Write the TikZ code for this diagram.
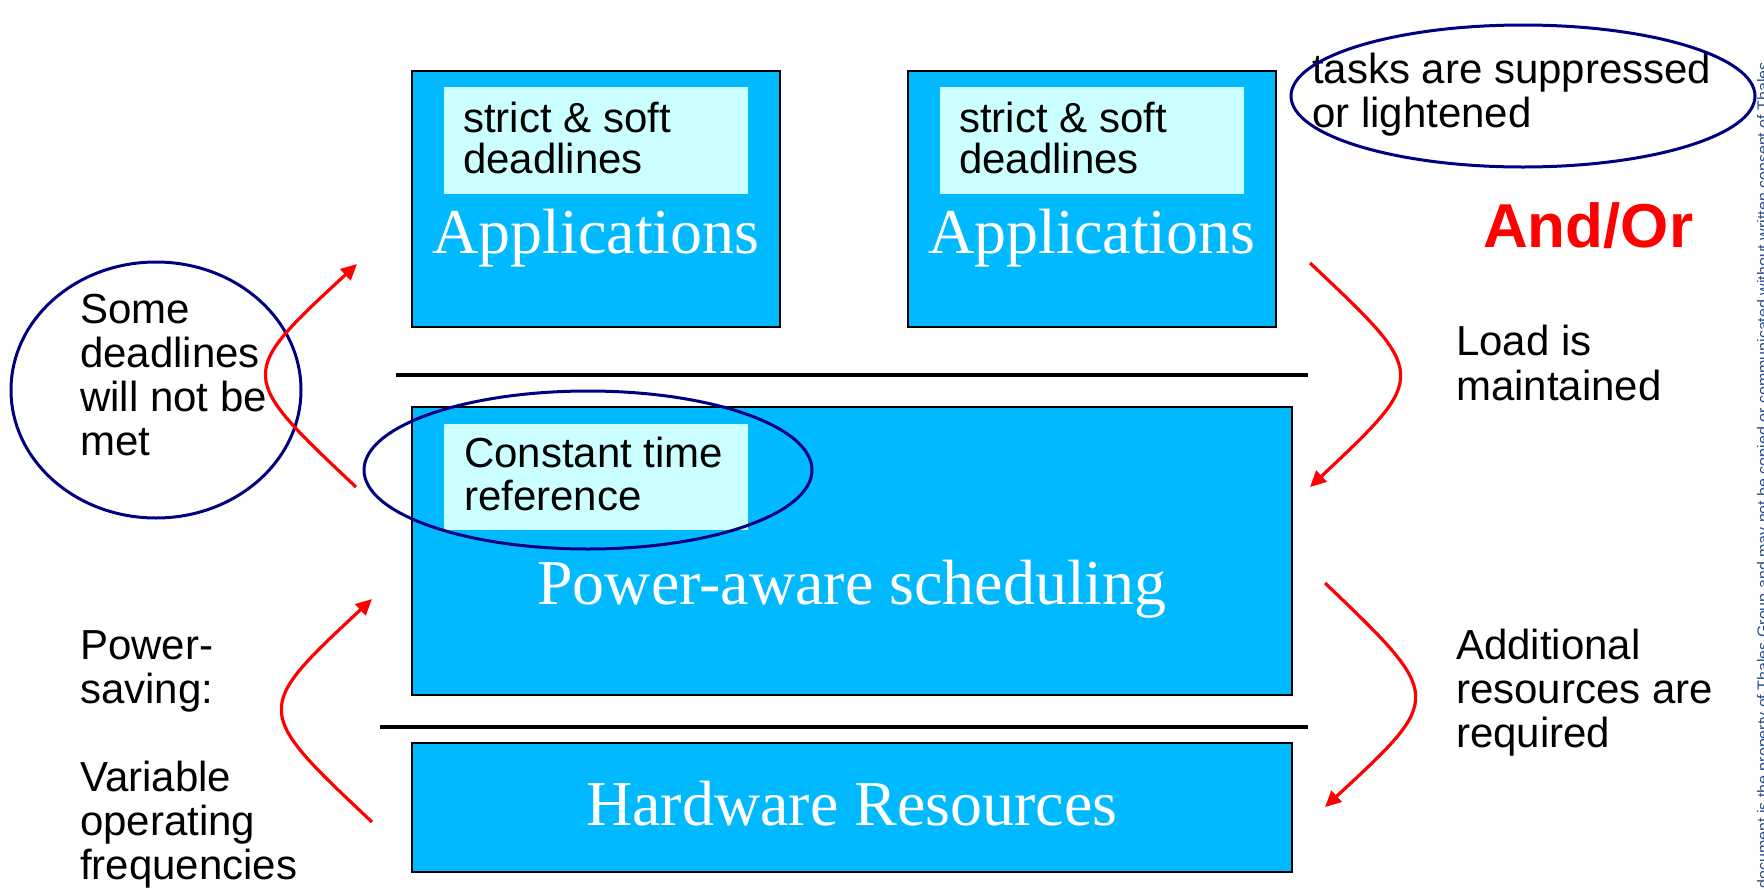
\documentclass[tikz,border=0pt]{standalone}
\usepackage{fontspec}
\setmainfont{Liberation Sans}
\newfontfamily\serifface{Liberation Serif}
\usetikzlibrary{arrows.meta,shapes.geometric}
\definecolor{layerblue}{RGB}{0,185,255}
\definecolor{notefill}{RGB}{204,255,255}
\definecolor{ringblue}{RGB}{0,0,128}
\definecolor{flowred}{RGB}{255,0,0}
\definecolor{legalblue}{RGB}{40,80,140}

\begin{document}
\begin{tikzpicture}[x=1pt,y=-1pt,
  layer/.style={draw=black,line width=2.5pt,fill=layerblue,rectangle,inner sep=0pt},
  note/.style={fill=notefill,rectangle,inner sep=0pt,minimum width=304pt},
  title/.style={font=\serifface\fontsize{64}{70}\selectfont,text=white,inner sep=0pt,anchor=base},
  body/.style={font=\fontsize{42}{44}\selectfont,align=left,inner sep=0pt,anchor=base west},
  ring/.style={draw=ringblue,line width=3pt,ellipse,inner sep=0pt},
  divider/.style={draw=black,line width=3.5pt},
  flow/.style={draw=flowred,line width=3.2pt,-{Triangle[length=16pt,width=15pt]}}]

\useasboundingbox (0,0) rectangle (1764,889);

% application layer (two instances); multi-line texts are placed by their last baseline
\node[layer,minimum width=368pt,minimum height=256pt] (appL) at (596,199) {};
\node[note,minimum height=107pt] (noteL) at (596,140.5) {};
\node[body,font=\fontsize{42}{41}\selectfont] (noteLtxt) at (463,173) {strict \& soft\\deadlines};
\node[title] (appLtxt) at (596,253) {Applications};

\node[layer,minimum width=368pt,minimum height=256pt] (appR) at (1092,199) {};
\node[note,minimum height=107pt] (noteR) at (1092,140.5) {};
\node[body,font=\fontsize{42}{41}\selectfont] (noteRtxt) at (959,173) {strict \& soft\\deadlines};
\node[title] (appRtxt) at (1092,253) {Applications};

% separators
\coordinate (d1a) at (396,375);
\coordinate (d1b) at (1308,375);
\coordinate (d2a) at (380,727);
\coordinate (d2b) at (1308,727);
\draw[divider] (d1a) -- (d1b);
\draw[divider] (d2a) -- (d2b);

% scheduling layer
\node[layer,minimum width=880pt,minimum height=288pt] (sched) at (852,551) {};
\node[note,minimum height=106pt] (noteC) at (596,477) {};
\node[body,font=\fontsize{42}{43}\selectfont] (noteCtxt) at (464,510) {Constant time\\reference};
\node[title] (schedtxt) at (852,604) {Power-aware scheduling};

% hardware layer
\node[layer,minimum width=880pt,minimum height=129pt] (hw) at (852,807.5) {};
\node[title] (hwtxt) at (852,825) {Hardware Resources};

% side remarks
\node[body] (miss) at (80,455) {Some\\deadlines\\will not be\\met};
\node[body] (save) at (80,879) {Power-\\saving:\\[44pt]Variable\\operating\\frequencies};
\node[body,font=\fontsize{42}{45}\selectfont] (load) at (1456,400) {Load is\\maintained};
\node[body] (extra) at (1456,747) {Additional\\resources are\\required};
\node[body] (drop) at (1312,127) {tasks are suppressed\\or lightened};
\node[body,font=\bfseries\fontsize{62}{66}\selectfont,text=flowred] (andor) at (1483,247) {And/Or};

% highlight rings
\node[ring,minimum width=290pt,minimum height=256pt] (ringMiss) at (156,390) {};
\node[ring,minimum width=448pt,minimum height=158pt] (ringTime) at (588,470) {};
\node[ring,minimum width=464pt,minimum height=142pt] (ringDrop) at (1523,96) {};

% red flows: each bends once around a single control point
\coordinate (f1s) at (356,487);
\coordinate (f1c) at (237,375);
\coordinate (f1t) at (357,264);
\draw[flow] (f1s) .. controls (f1c) and (f1c) .. (f1t);

\coordinate (f2s) at (372,822);
\coordinate (f2c) at (253,710);
\coordinate (f2t) at (372,599);
\draw[flow] (f2s) .. controls (f2c) and (f2c) .. (f2t);

\coordinate (f3s) at (1310,263);
\coordinate (f3c) at (1429,375);
\coordinate (f3t) at (1310,487);
\draw[flow] (f3s) .. controls (f3c) and (f3c) .. (f3t);

\coordinate (f4s) at (1325,583);
\coordinate (f4c) at (1444,697);
\coordinate (f4t) at (1325,807);
\draw[flow] (f4s) .. controls (f4c) and (f4c) .. (f4t);

% legal notice along the right edge, running off the page
\begin{scope}
  \clip (0,0) rectangle (1764,889);
  \node[rotate=90,anchor=base east,inner sep=0pt,text=legalblue,font=\fontsize{16}{18}\selectfont] (legal) at (1768.5,62)
    {This document is the property of Thales Group and may not be copied or communicated without written consent of Thales};
\end{scope}
\end{tikzpicture}
\end{document}
